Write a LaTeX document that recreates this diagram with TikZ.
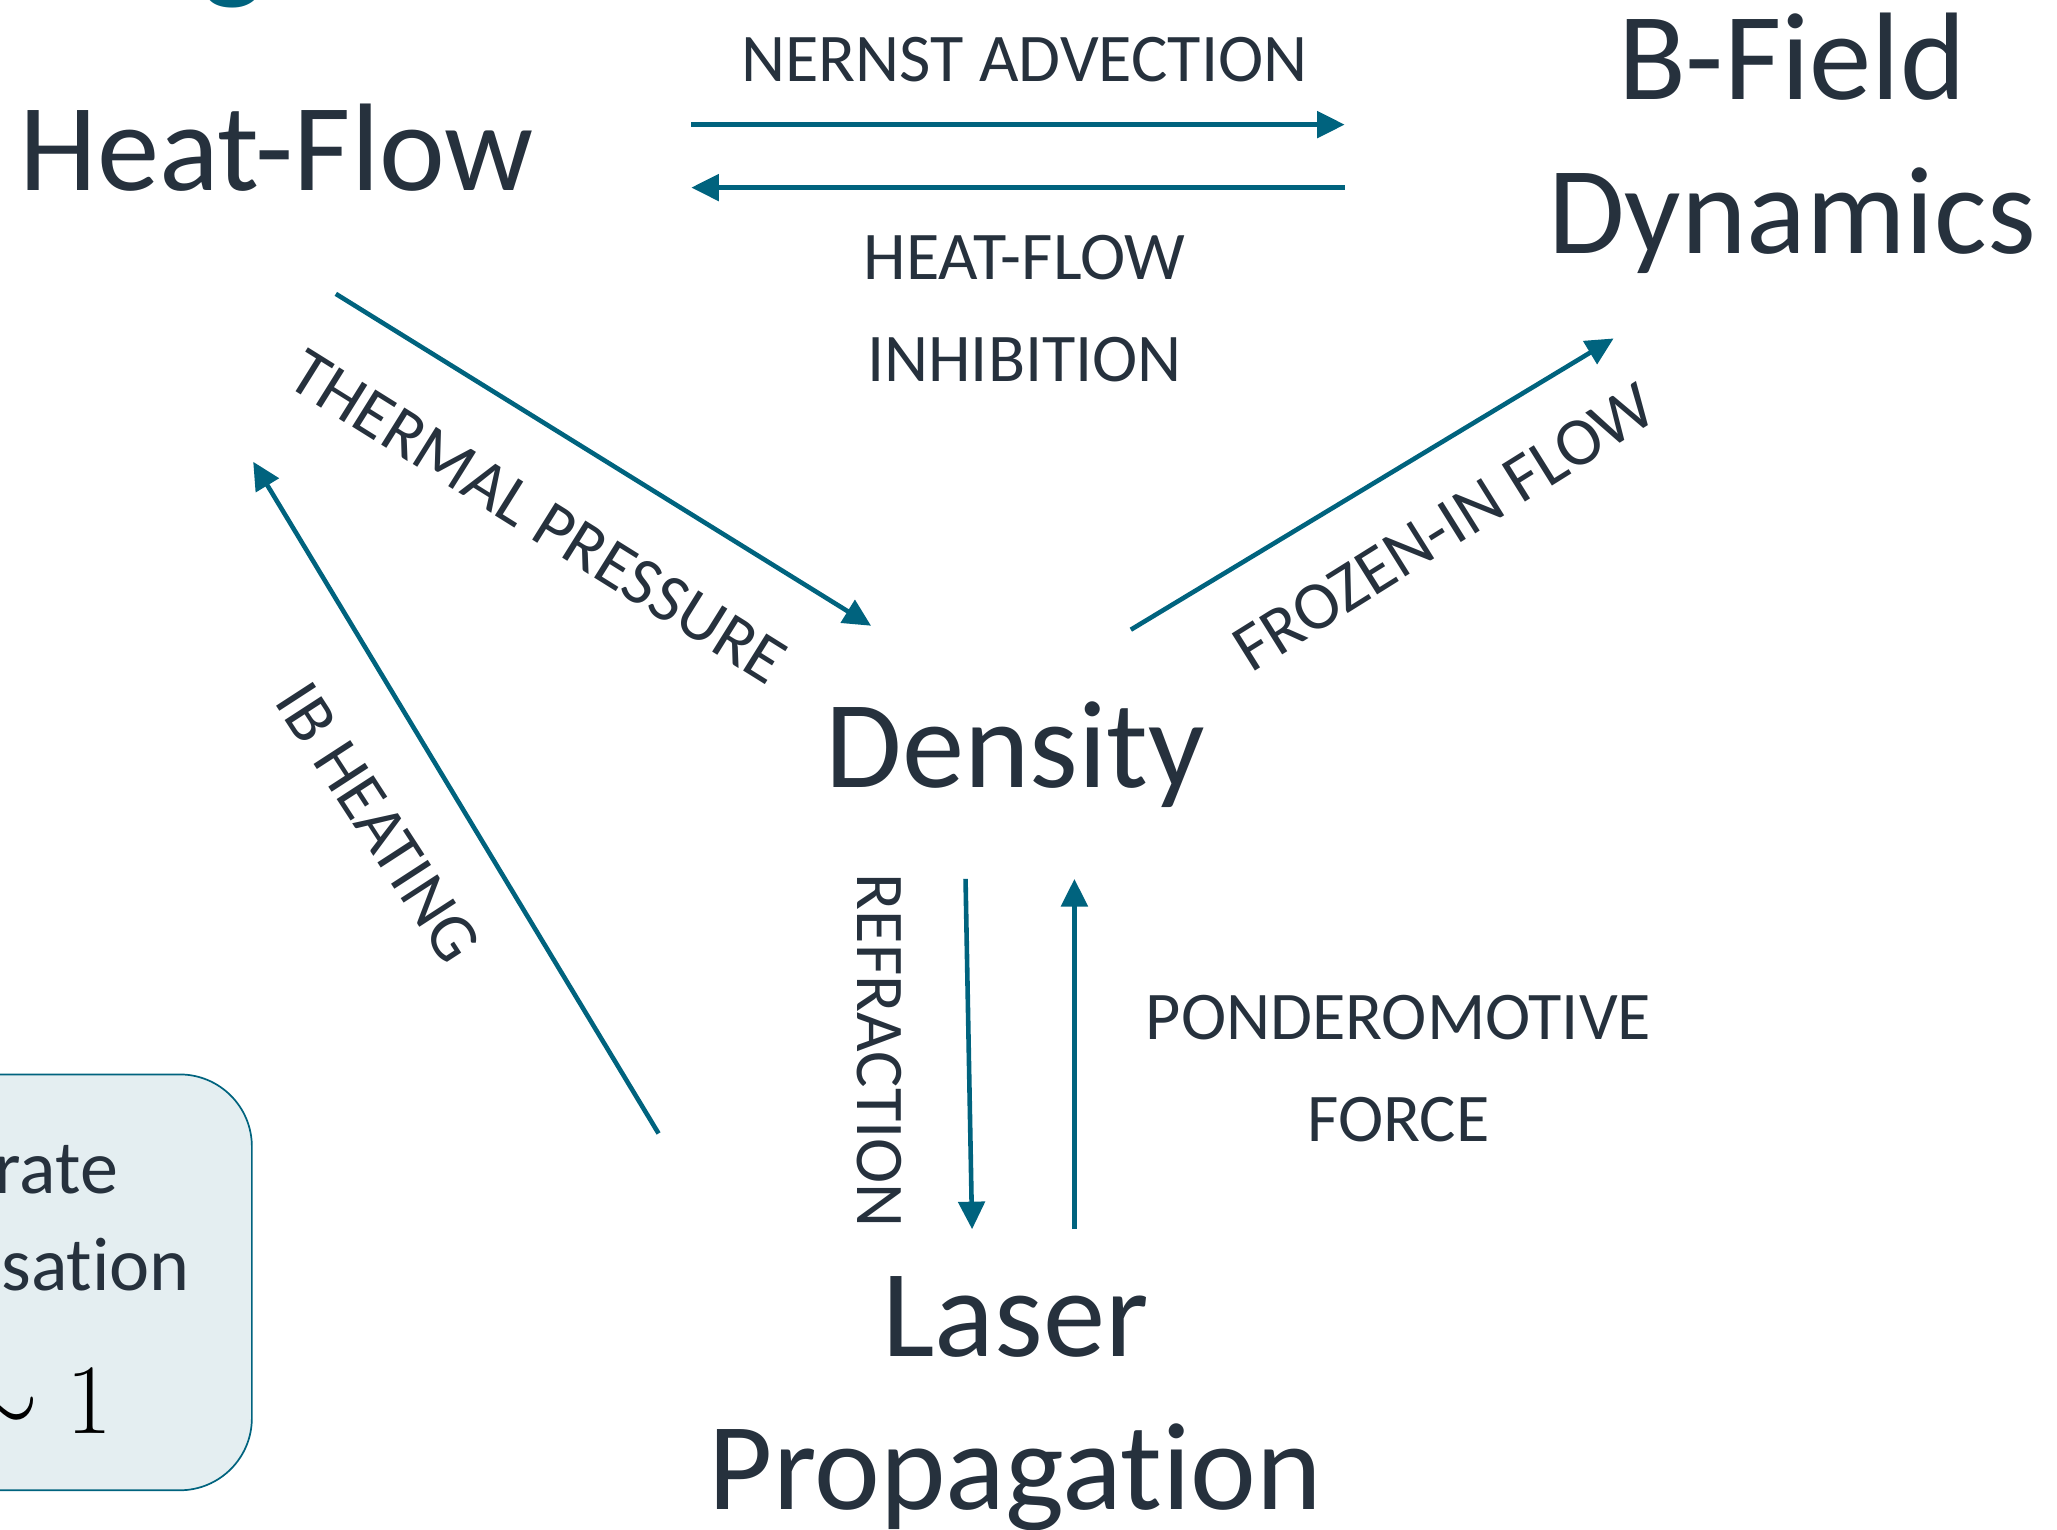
\RequirePackage{fix-cm}
\documentclass[tikz,border=0pt]{standalone}
\usepackage[no-math]{fontspec}
\setmainfont{Carlito}[Ligatures={CommonOff}]
\usetikzlibrary{arrows.meta}
\definecolor{ink}{RGB}{38,49,61}
\definecolor{tealc}{RGB}{0,99,126}
\definecolor{boxfill}{RGB}{228,238,241}
\begin{document}
\begin{tikzpicture}[x=1pt,y=-1pt,
  big/.style={font=\fontsize{95}{117}\selectfont, text=ink, inner sep=0pt, align=center},
  lab/.style={font=\fontsize{52}{78}\selectfont, text=ink, inner sep=0pt, align=center},
  boxtxt/.style={font=\fontsize{58}{75}\selectfont, text=ink, inner sep=0pt},
  arr/.style={draw=tealc, line width=3.5pt, -{Triangle[length=21pt,width=20pt]}},
]
\useasboundingbox (0,0) rectangle (1568,1166);
\clip (0,0) rectangle (1568,1166);

% partial title letter at the top edge
\node[font=\fontsize{100}{120}\selectfont, text=tealc, inner sep=0pt, anchor=base] (title) at (178,-11) {g};

% main quantities (base = baseline of the last line)
\node[big, anchor=base] (heat) at (211,145) {Heat-Flow};
\node[big, anchor=base] (bfield) at (1366,193) {B-Field\\Dynamics};
\node[big, anchor=base] (dens) at (774,600) {Density};
\node[big, anchor=base] (laser) at (774,1151) {Laser\\Propagation};

% side box (cropped)
\node[draw=tealc, line width=1.3pt, fill=boxfill, rounded corners=55pt,
      minimum width=320pt, minimum height=317pt, inner sep=0pt] (sidebox) at (32,977.5) {};
\node[boxtxt, anchor=base east] (r1) at (90,910) {rate};
\node[boxtxt, anchor=base east] (r2) at (145,984) {sation};
\node[inner sep=0pt, anchor=base east, font=\fontsize{76}{90}\selectfont] (r3) at (86,1093) {$\sim 1$};

% labels
\node[lab, anchor=base] (nernst) at (781,62) {NERNST ADVECTION};
\node[lab, anchor=base] (inhib) at (781,291) {HEAT-FLOW\\INHIBITION};
\node[lab, anchor=base] (ponder) at (1066,870) {PONDEROMOTIVE\\FORCE};
\node[lab, rotate=-32] (thermal) at (410,394) {THERMAL PRESSURE};
\node[lab, rotate=-57] (ib) at (288,627) {IB HEATING};
\node[lab, rotate=32] (frozen) at (1101,402) {FROZEN-IN FLOW};
\node[lab, rotate=-90] (refr) at (670,801) {REFRACTION};

% arrow end points
\coordinate (hfR) at (527,95);
\coordinate (bfL) at (1025,95);
\coordinate (bfL2) at (1025,143);
\coordinate (hfR2) at (527,143);
\coordinate (hfB) at (256,224);
\coordinate (dnTL) at (664,477);
\coordinate (lpTL) at (502,864);
\coordinate (hfBL) at (193,352);
\coordinate (dnTR) at (862,480);
\coordinate (bfB) at (1230,258);
\coordinate (dnB1) at (736,670);
\coordinate (lpT1) at (741,937);
\coordinate (lpT2) at (819,937);
\coordinate (dnB2) at (819,670);

\draw[arr] (hfR) -- (bfL);
\draw[arr] (bfL2) -- (hfR2);
\draw[arr] (hfB) -- (dnTL);
\draw[arr] (lpTL) -- (hfBL);
\draw[arr] (dnTR) -- (bfB);
\draw[arr] (dnB1) -- (lpT1);
\draw[arr] (lpT2) -- (dnB2);
\end{tikzpicture}
\end{document}
